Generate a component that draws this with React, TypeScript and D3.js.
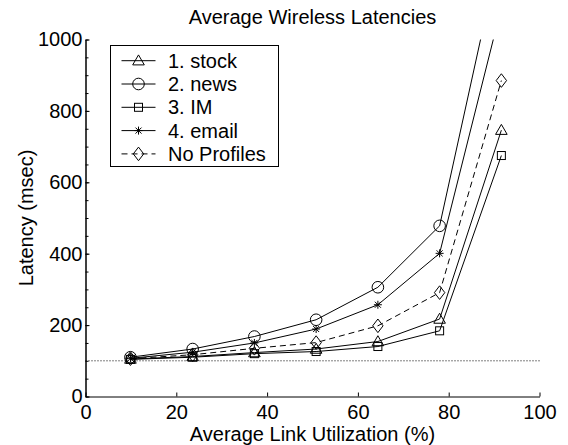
import React, { useEffect, useRef } from "react";
import { select, scaleLinear, axisBottom, axisLeft, line, range } from "d3";

// average link utilization (%) for each run
const utilization = [9.9, 23.6, 37.2, 50.8, 64.4, 78.0, 91.6];

// latency (msec) per profile
const stock = [105, 112, 123, 133, 154, 217, 746];
const news = [110, 133, 168, 215, 306, 478, 1265];
const im = [104, 110, 120, 126, 140, 184, 675];
const email = [107, 124, 150, 189, 257, 401, 1090];
const noProfiles = [106, 117, 135, 151, 198, 291, 885];

const seriesNames = ["1. stock", "2. news", "3. IM", "4. email", "No Profiles"];
const seriesMarkers = ["triangle", "circle", "square", "star", "diamond"];
const seriesDashed = [false, false, false, false, true];

const xTicks = [0, 20, 40, 60, 80, 100];
const yTicks = [0, 200, 400, 600, 800, 1000];
const baseline = 100;

const FONT = "'Liberation Sans', Arial, Helvetica, sans-serif";

function drawMarker(g, kind, cx, cy) {
  const m = g.append("g").attr("transform", `translate(${cx},${cy})`)
    .attr("fill", "none").attr("stroke", "#000").attr("stroke-width", 1);
  if (kind === "circle") {
    m.append("circle").attr("r", 5.8);
  } else if (kind === "triangle") {
    m.append("path").attr("d", "M0,-5.8L5.8,4.2L-5.8,4.2Z");
  } else if (kind === "square") {
    m.append("rect").attr("x", -4).attr("y", -4).attr("width", 8).attr("height", 8);
  } else if (kind === "diamond") {
    m.append("path").attr("d", "M0,-6.8L5.2,0L0,6.8L-5.2,0Z");
  } else if (kind === "star") {
    m.append("path").attr("d", "M-4,0L4,0M0,-4L0,4M-3,-3L3,3M-3,3L3,-3");
  }
}

export default function App() {
  const svgRef = useRef(null);

  useEffect(() => {
    const W = 568;
    const H = 445;
    const M = { left: 85.5, right: 539.5, top: 39.5, bottom: 396.5 };

    const svg = select(svgRef.current);
    svg.selectAll("*").remove();
    svg.attr("width", W).attr("height", H);

    const x = scaleLinear().domain([0, 100]).range([M.left, M.right]);
    const y = scaleLinear().domain([0, 1000]).range([M.bottom, M.top]);

    svg.append("defs").append("clipPath").attr("id", "plotclip")
      .append("rect").attr("x", M.left).attr("y", M.top)
      .attr("width", M.right - M.left).attr("height", M.bottom - M.top);

    // dotted 100 msec reference
    svg.append("line")
      .attr("x1", x(0)).attr("x2", x(100))
      .attr("y1", y(baseline)).attr("y2", y(baseline))
      .attr("stroke", "#000").attr("stroke-width", 1)
      .attr("stroke-dasharray", "1,2");

    const allSeries = [stock, news, im, email, noProfiles];
    const plot = svg.append("g").attr("clip-path", "url(#plotclip)");
    const lineGen = line().x((d) => x(d[0])).y((d) => y(d[1]));

    allSeries.forEach((vals, i) => {
      const pts = utilization.map((u, j) => [u, vals[j]]);
      plot.append("path")
        .attr("d", lineGen(pts))
        .attr("fill", "none")
        .attr("stroke", "#000")
        .attr("stroke-width", 1)
        .attr("stroke-dasharray", seriesDashed[i] ? "6,4" : null);
      pts.forEach((p) => {
        if (p[1] <= 1000) drawMarker(plot, seriesMarkers[i], x(p[0]), y(p[1]));
      });
    });

    // axes
    const xAxis = svg.append("g")
      .attr("transform", `translate(0,${M.bottom})`)
      .call(axisBottom(x).tickValues(xTicks).tickSize(-4).tickSizeOuter(0).tickPadding(8).tickFormat((d) => String(d)));
    const yMinor = svg.append("g")
      .attr("transform", `translate(${M.left},0)`)
      .call(axisLeft(y).tickValues(range(0, 1001, 50)).tickSize(-3).tickSizeOuter(0).tickFormat(() => ""));
    const yAxis = svg.append("g")
      .attr("transform", `translate(${M.left},0)`)
      .call(axisLeft(y).tickValues(yTicks).tickSize(-4).tickSizeOuter(0).tickPadding(3).tickFormat((d) => String(d)));

    [xAxis, yAxis, yMinor].forEach((a) => {
      a.selectAll("path, line").attr("stroke", "#000");
      a.selectAll("text").attr("fill", "#000").attr("font-size", 20).attr("font-family", FONT);
    });

    // titles
    svg.append("text").text("Average Wireless Latencies")
      .attr("x", (M.left + M.right) / 2).attr("y", 24)
      .attr("text-anchor", "middle").attr("font-size", 20).attr("font-family", FONT);
    svg.append("text").text("Average Link Utilization (%)")
      .attr("x", (M.left + M.right) / 2).attr("y", 441)
      .attr("text-anchor", "middle").attr("font-size", 20).attr("font-family", FONT);
    svg.append("text").text("Latency (msec)")
      .attr("transform", `translate(33,${(M.top + M.bottom) / 2}) rotate(-90)`)
      .attr("text-anchor", "middle").attr("font-size", 20).attr("font-family", FONT);

    // legend
    const legend = svg.append("g");
    legend.append("rect")
      .attr("x", 110.5).attr("y", 45.5).attr("width", 168).attr("height", 121)
      .attr("fill", "#fff").attr("stroke", "#000").attr("stroke-width", 1);
    seriesNames.forEach((name, i) => {
      const ly = 60.7 + i * 23.3;
      legend.append("line")
        .attr("x1", 121.5).attr("x2", 155.5).attr("y1", ly).attr("y2", ly)
        .attr("stroke", "#000").attr("stroke-width", 1)
        .attr("stroke-dasharray", seriesDashed[i] ? "6,4" : null);
      drawMarker(legend, seriesMarkers[i], 138.5, ly);
      legend.append("text").text(name)
        .attr("x", 168).attr("y", ly + 7)
        .attr("font-size", 20).attr("font-family", FONT);
    });
  }, []);

  return (
    <div style={{ position: "absolute", left: 0, top: 0 }}>
      <svg ref={svgRef}></svg>
    </div>
  );
}
